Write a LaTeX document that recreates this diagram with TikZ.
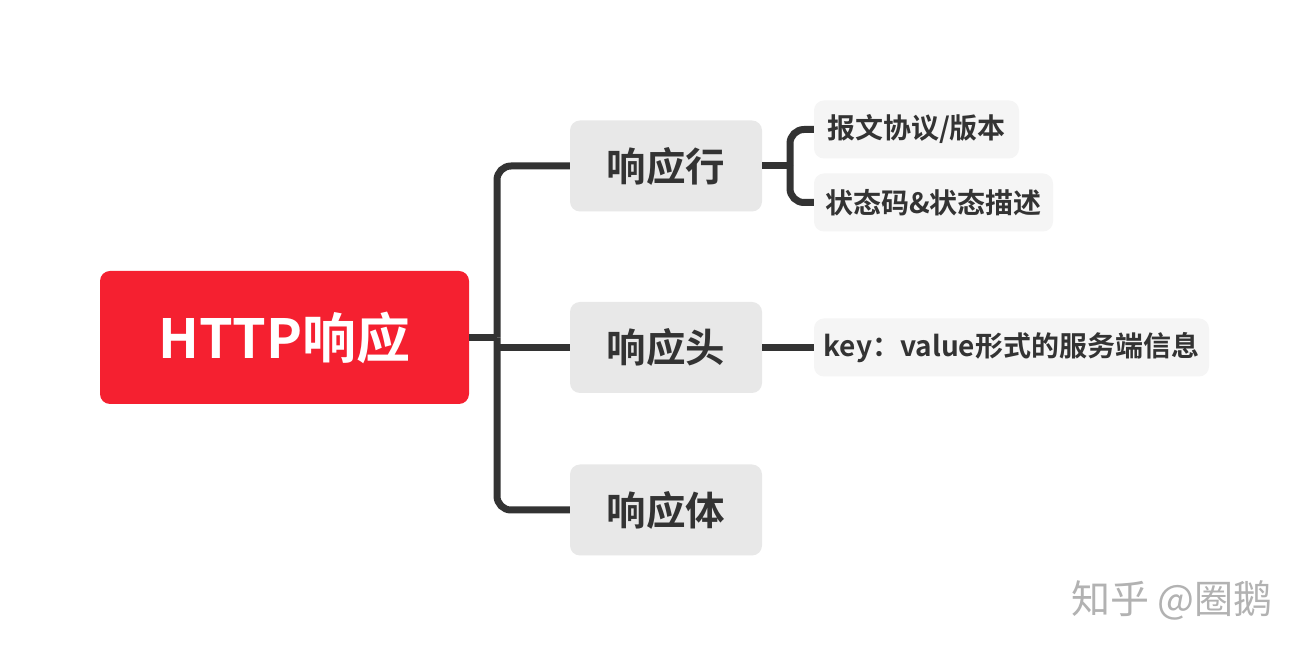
\documentclass[tikz,border=0pt]{standalone}
\usepackage{fontspec}
\setmainfont{Noto Sans CJK SC}[BoldFont={Noto Sans CJK SC Bold}]
\definecolor{rootred}{HTML}{F52030}
\definecolor{lone}{HTML}{E8E8E8}
\definecolor{ltwo}{HTML}{F5F5F5}
\definecolor{linec}{HTML}{333333}
\definecolor{txtc}{HTML}{333333}
\begin{document}
\begin{tikzpicture}[x=1pt,y=1pt,
  rootbox/.style={fill=rootred, rounded corners=10pt, minimum width=369pt, minimum height=133pt, text=white, font=\fontsize{54}{58}\selectfont\bfseries, inner sep=0pt},
  onebox/.style={fill=lone, rounded corners=10pt, minimum width=192pt, minimum height=91pt, text=txtc, font=\fontsize{39.5}{44}\selectfont\bfseries, inner sep=0pt},
  twobox/.style={fill=ltwo, rounded corners=10pt, minimum height=58pt, text=txtc, font=\fontsize{28}{32}\selectfont\bfseries, inner sep=0pt},
  conn/.style={draw=linec, line width=7pt, rounded corners=14pt}]
\useasboundingbox (0,0) rectangle (1310,656);
\fill[white] (0,0) rectangle (1310,656);
% root
\node[rootbox] (root) at (284.5,318.5) {HTTP响应};
% level 1
\node[onebox] (l1) at (666,490) {响应行};
\node[onebox] (l2) at (666,308.5) {响应头};
\node[onebox] (l3) at (666,146) {响应体};
% level 2
\node[twobox, minimum width=205pt] (s1) at (916.5,526.5) {报文协议/版本};
\node[twobox, minimum width=239pt] (s2) at (933.5,453.5) {状态码\&状态描述};
\node[twobox, minimum width=395pt] (s3) at (1011.5,308.5) {key：value形式的服务端信息};
% junctions
\coordinate (j) at (497,318.5);
\coordinate (k) at (790,490);
% connectors
\draw[conn] (root.east) -- (j);
\draw[conn] (l1.west) -| (j);
\draw[conn] (l3.west) -| (j);
\draw[conn] (l2.west) -- (l2.west -| j);
\draw[conn] (l1.east) -- (k);
\draw[conn] (s1.west) -| (k);
\draw[conn] (s2.west) -| (k);
\draw[conn] (l2.east) -- (s3.west);
% watermark
\node[text=black!30, font=\fontsize{39}{43}\selectfont, anchor=center] (wm) at (1172,56) {知乎 @圈鹅};
\end{tikzpicture}
\end{document}
